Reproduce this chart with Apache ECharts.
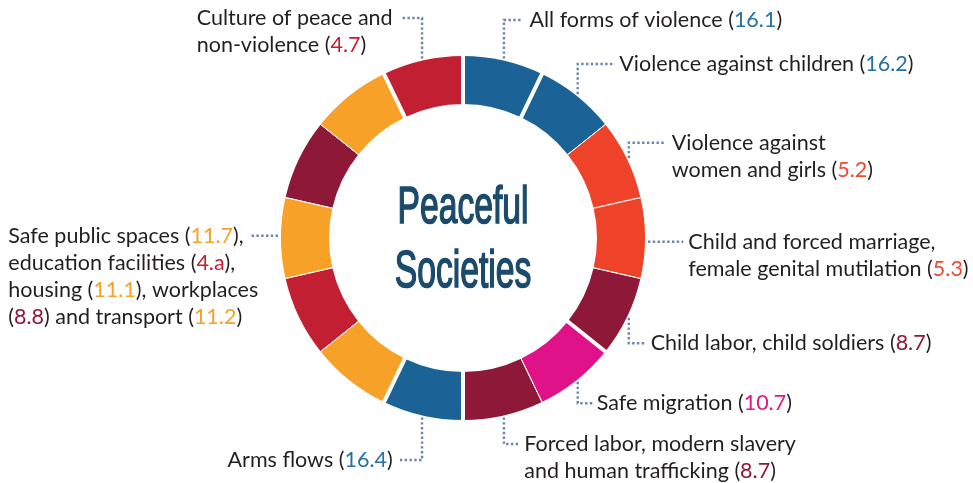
<!DOCTYPE html>
<html lang="en">
<head>
<meta charset="utf-8" />
<title>Peaceful Societies</title>
<script src="https://cdn.jsdelivr.net/npm/echarts@6/dist/echarts.min.js"></script>
<style>
	html,body{margin:0;padding:0;background:#fff;}
	#main{width:973px;height:483px;}
</style>
</head>
<body>
<div id="main"></div>
<script>
// SDG targets round the ring, clockwise from 12 o'clock
var targets = ['16.1','16.2','5.2','5.3','8.7','10.7','8.7','16.4','11.2','4.a','11.7','8.8','11.1','4.7'];
var shares  = [1,1,1,1,1,1,1,1,1,1,1,1,1,1];
var labels = [
	'All forms of violence ({16.1})',
	'Violence against children ({16.2})',
	'Violence against\nwomen and girls ({5.2})',
	'Child and forced marriage,\nfemale genital mutilation ({5.3})',
	'Child labor, child soldiers ({8.7})',
	'Safe migration ({10.7})',
	'Forced labor, modern slavery\nand human trafficking ({8.7})',
	'Arms flows ({16.4})',
	'',
	'',
	'Safe public spaces ({11.7}),\neducation facilities ({4.a}),\nhousing ({11.1}), workplaces\n({8.8}) and transport ({11.2})',
	'',
	'',
	'Culture of peace and\nnon-violence ({4.7})'
];
// kind of edge at the start of each slice
var seps = ['gap','gap','thin','dot','thin','gap','thin','gap','gap','thin','thin','thin','thin','gap'];

var goalColor = {'16':'#1b6397','5':'#ee4229','8':'#8e1838','10':'#df1289','11':'#f7a128','4':'#c31f33'};
var codeColor = {'16':'#2471a9','5':'#ef4a2e','8':'#8e1838','10':'#e0168a','11':'#f7a128','4':'#c31f33'};

// label placement: text x, first line middle y, leader tail x, leader shape
var place = {
	0:  {x:529.5, y:20,    tail:523,   kind:'v'},
	1:  {x:619.3, y:64,    tail:615,   kind:'v'},
	2:  {x:671.7, y:142.7, tail:665,   kind:'v'},
	3:  {x:688.3, y:241.7, tail:683.3, kind:'h'},
	4:  {x:650.7, y:343.3, tail:645,   kind:'v'},
	5:  {x:596.7, y:403.3, tail:593,   kind:'v'},
	6:  {x:524.3, y:444,   tail:518,   kind:'v'},
	7:  {x:392.7, y:460,   tail:400,   kind:'v', align:'right'},
	10: {x:8.3,   y:235.7, tail:250,   kind:'h'},
	13: {x:196.7, y:18,    tail:401.7, kind:'v'}
};

var CX = 463, CY = 238, R0 = 134, R1 = 182;
var FONT = 'Lato', FS = 21.5, LH = 27;

function goal(t){ return t.split('.')[0]; }

var rich = {};
for (var g in codeColor) {
	rich['g' + g] = {color: codeColor[g], fontFamily: FONT, fontSize: FS, lineHeight: LH};
}
function richText(s){
	return s.replace(/\{([0-9a-z.]+)\}/g, function(m, c){ return '{g' + goal(c) + '|' + c + '}'; });
}

var total = 0, cum = [];
shares.forEach(function(v){ cum.push(total); total += v; });

function midAngle(i){
	var f = (cum[i] + shares[i] / 2) / total;
	return (90 - f * 360) * Math.PI / 180;
}

var ringData = targets.map(function(t, i){
	var on = !!labels[i];
	return {
		name: t,
		value: shares[i],
		itemStyle: {color: goalColor[goal(t)]},
		label: {show: on},
		labelLine: {show: on}
	};
});

// white separators drawn on top of the ring
var eps = 0.0002;
var sepStyle = {
	gap:  {color:'#fff', borderColor:'#fff', borderWidth:4},
	thin: {color:'#fff', borderColor:'#fff', borderWidth:0.9},
	dot:  {color:'rgba(0,0,0,0)', borderColor:'#fff', borderWidth:1.3, borderType:[1.3,1.3]}
};
var sepData = [];
seps.forEach(function(s, k){
	sepData.push({value: eps, itemStyle: sepStyle[s]});
	sepData.push({value: shares[k] - eps, itemStyle: {color:'rgba(0,0,0,0)', borderWidth:0}});
});

var chart = echarts.init(document.getElementById('main'));
chart.setOption({
	animation: false,
	series: [
		{
			type: 'pie',
			z: 2,
			center: [CX, CY],
			radius: [R0, R1],
			startAngle: 90,
			clockwise: true,
			silent: true,
			avoidLabelOverlap: false,
			data: ringData,
			label: {
				position: 'outside',
				formatter: function(p){ return richText(labels[p.dataIndex]); },
				color: '#231f20',
				fontFamily: FONT,
				fontSize: FS,
				lineHeight: LH,
				rich: rich
			},
			labelLine: {
				lineStyle: {color:'#6a85ab', width:2.4, type:[2.4,2.4]}
			},
			labelLayout: function(p){
				var L = place[p.dataIndex];
				if (!L) return {};
				var a = midAngle(p.dataIndex), pts;
				if (L.kind === 'v') {
					var sx = CX + (R1 + 2) * Math.cos(a);
					var sy = CY - (R1 + 2) * Math.sin(a);
					pts = [[sx, sy], [sx, L.y], [L.tail, L.y]];
				} else {
					var dy = L.y - CY;
					var hx = CX + (Math.cos(a) >= 0 ? 1 : -1) * (Math.sqrt(R1 * R1 - dy * dy) + 3);
					pts = [[hx, L.y], [(hx + L.tail) / 2, L.y], [L.tail, L.y]];
				}
				return {
					x: L.x,
					y: L.y - LH / 2,
					align: L.align || 'left',
					verticalAlign: 'top',
					labelLinePoints: pts
				};
			}
		},
		{
			type: 'pie',
			z: 3,
			center: [CX, CY],
			radius: [R0 - 4, R1 + 4],
			startAngle: 90 + eps / 2 * 360 / total,
			clockwise: true,
			silent: true,
			label: {show: false},
			labelLine: {show: false},
			data: sepData
		}
	],
	graphic: [{
		type: 'text',
		x: CX,
		y: 241,
		scaleX: 0.66,
		z: 10,
		style: {
			text: 'Peaceful\nSocieties',
			fill: '#1b4a6b',
			stroke: '#1b4a6b',
			lineWidth: 1.6,
			fontFamily: 'Liberation Sans',
			fontSize: 51,
			lineHeight: 64,
			align: 'center',
			verticalAlign: 'middle'
		}
	}]
});
</script>
</body>
</html>
